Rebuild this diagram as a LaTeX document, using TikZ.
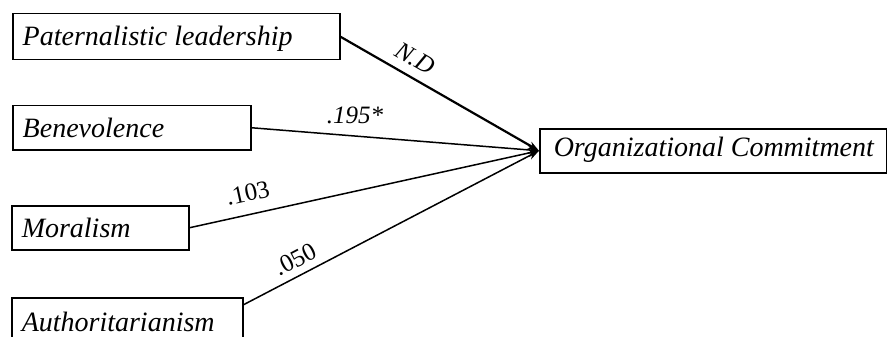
\documentclass[tikz,border=0pt]{standalone}
\usepackage{fontspec}
\setmainfont{Liberation Serif}
\usetikzlibrary{arrows.meta}

\tikzset{
  varbox/.style={draw, line width=1.5pt, anchor=north west, inner ysep=0pt,
    font=\fontsize{28}{30}\selectfont\itshape},
  path/.style={line width=1.5pt, -{Stealth[length=11pt,width=8pt]}},
  coef/.style={font=\fontsize{25}{27}\selectfont, inner sep=2pt},
  coefit/.style={coef, font=\fontsize{25}{27}\selectfont\itshape}
}

\begin{document}
\begin{tikzpicture}[x=1pt, y=-1pt]
  \clip (0,0) rectangle (887,337);
  \fill[white] (0,0) rectangle (887,337);

  % predictor boxes
  \node[varbox, inner xsep=10pt, text height=32pt, text depth=14pt] (pl) at (12,13)
    {\makebox[307pt][l]{Paternalistic leadership}};
  \node[varbox, inner xsep=10pt, text height=32pt, text depth=12pt] (ben) at (12,105)
    {\makebox[218pt][l]{Benevolence}};
  \node[varbox, inner xsep=10pt, text height=32pt, text depth=12pt] (mor) at (11,205)
    {\makebox[157pt][l]{Moralism}};
  \node[varbox, inner xsep=10pt, text height=34pt, text depth=12pt] (aut) at (11,297)
    {\makebox[211pt][l]{Authoritarianism}};

  % outcome box
  \node[varbox, inner xsep=14pt, text height=28pt, text depth=16pt] (oc) at (539,128)
    {\makebox[319pt][l]{Organizational Commitment}};

  % paths with coefficients
  \draw[path, line width=2.2pt] (pl.east) -- (oc.west)
    node[coefit, pos=0.33, sloped, above=7pt] {N.D};
  \draw[path] (ben.east) -- (oc.west)
    node[coefit, pos=0.36, above=9pt] {.195*};
  \draw[path] (mor.east) -- (oc.west)
    node[coef, pos=0.18, sloped, above=10pt] {.103};
  \draw[path] ([yshift=16pt]aut.east) -- (oc.west)
    node[coef, pos=0.2, sloped, above=5pt] {.050};
\end{tikzpicture}
\end{document}
